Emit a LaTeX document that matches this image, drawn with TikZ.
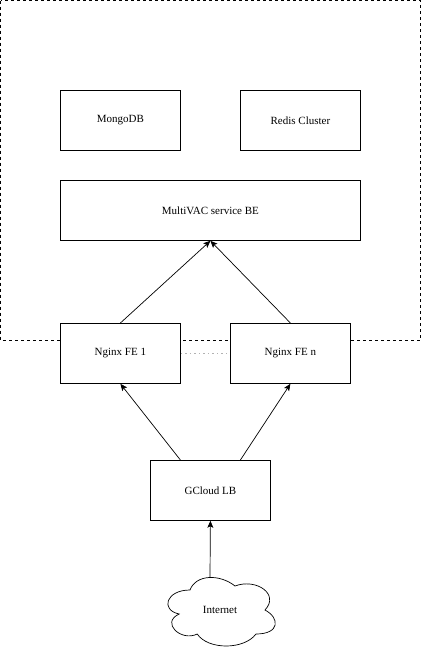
\documentclass[tikz,border=0pt]{standalone}
\usepackage{fontspec}
\setmainfont{Liberation Serif}
\usetikzlibrary{arrows.meta}
\tikzset{
  box/.style={draw=black, fill=white, line width=0.8pt, minimum width=120pt, minimum height=60pt, inner sep=0pt, font=\fontsize{11}{13}\selectfont, anchor=north west},
  conn/.style={line width=0.7pt, -{Stealth[length=7pt,width=6pt,inset=1.5pt]}},
  frame/.style={draw=black, line width=0.7pt, dash pattern=on 3pt off 3pt},
}
\begin{document}
\begin{tikzpicture}[x=1pt,y=-1pt]
\useasboundingbox (0,0) rectangle (421,651);
\draw[frame] (0.5,0.5) rectangle (420.5,340);
\node[box] (mongo) at (60,90) {MongoDB};
\node[box] (redis) at (240,90) {Redis Cluster};
\node[box, minimum width=300pt] (be) at (60,180) {MultiVAC service BE};
\node[box] (fe1) at (60,323) {Nginx FE 1};
\node[box] (fen) at (230,323) {Nginx FE n};
\node[box] (lb) at (150,460) {GCloud LB};
\draw[draw=gray!60, line width=1pt, dash pattern=on 1.5pt off 3pt] (fe1.east) -- (fen.west);
% cloud
\begin{scope}[shift={(160,570)}]
\draw[line width=0.7pt, fill=white]
  (30,20) .. controls (6,20) and (0,40) .. (19.2,44)
  .. controls (0,52.8) and (21.6,72) .. (37.2,64)
  .. controls (48,80) and (84,80) .. (96,64)
  .. controls (120,64) and (120,48) .. (105,40)
  .. controls (120,24) and (96,8) .. (75,16)
  .. controls (60,4) and (36,4) .. (30,20) -- cycle;
\node[font=\fontsize{11}{13}\selectfont] (inet) at (60,40) {Internet};
\coordinate (inettop) at (50,7.5);
\end{scope}
\draw[conn] (fe1.north) -- (be.south);
\draw[conn] (fen.north) -- (be.south);
\draw[conn] ([xshift=-30pt]lb.north) -- (fe1.south);
\draw[conn] ([xshift=30pt]lb.north) -- (fen.south);
\draw[conn] (inettop) -- (lb.south);
\end{tikzpicture}
\end{document}
